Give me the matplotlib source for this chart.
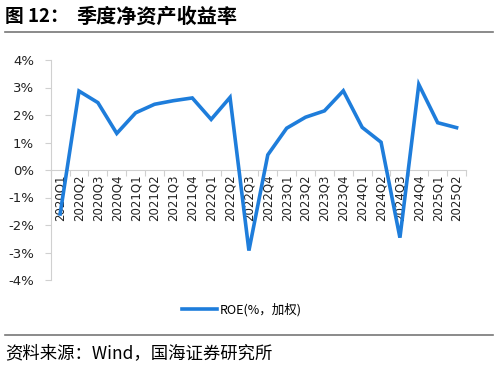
import matplotlib
matplotlib.use("Agg")
import matplotlib.pyplot as plt
from matplotlib.lines import Line2D
from matplotlib.ticker import FuncFormatter, MultipleLocator

plt.rcParams['font.family'] = ['Noto Sans CJK SC', 'DejaVu Sans']

quarters = ["2020Q1", "2020Q2", "2020Q3", "2020Q4", "2021Q1", "2021Q2", "2021Q3", "2021Q4",
            "2022Q1", "2022Q2", "2022Q3", "2022Q4", "2023Q1", "2023Q2", "2023Q3", "2023Q4",
            "2024Q1", "2024Q2", "2024Q3", "2024Q4", "2025Q1", "2025Q2"]
roe = [-1.6, 2.87, 2.45, 1.33, 2.08, 2.39, 2.52, 2.62,
       1.84, 2.64, -2.93, 0.55, 1.52, 1.92, 2.15, 2.88,
       1.55, 1.01, -2.46, 3.11, 1.72, 1.54]

title_a = "图 12："
title_b = "季度净资产收益率"
legend_label = "ROE(%，加权)"
source = "资料来源：Wind，国海证券研究所"

W, H = 498, 375
fig = plt.figure(figsize=(W / 100, H / 100), dpi=100)

ax = fig.add_axes([50.7 / W, 1 - 280 / H, (466 - 50.7) / W, 220 / H])
x = list(range(len(quarters)))
color = '#1E7DDB'
ax.plot(x, roe, color=color, lw=2.6, solid_joinstyle='miter', zorder=3)

ax.set_xlim(-0.5, len(quarters) - 0.5)
ax.set_ylim(-4, 4)
ax.yaxis.set_major_locator(MultipleLocator(1))
ax.yaxis.set_major_formatter(FuncFormatter(lambda v, p: f"{v:.0f}%"))

grey = '#d0d0d0'
for s in ['top', 'right']:
    ax.spines[s].set_visible(False)
ax.spines['left'].set_color(grey)
ax.spines['bottom'].set_color(grey)
ax.spines['bottom'].set_position(('data', 0))

ax.set_xticks([i - 0.5 for i in range(len(quarters) + 1)], minor=False)
ax.set_xticklabels([])
ax.set_xticks(x, minor=True)
ax.set_xticklabels(quarters, minor=True, rotation=90, fontsize=8.5,
                   family=['DejaVu Sans'], color='#222222')
ax.tick_params(axis='x', which='major', length=4, color=grey, direction='out')
ax.tick_params(axis='x', which='minor', length=0, pad=3)
ax.tick_params(axis='y', length=4, color=grey, labelsize=9.5, pad=8, labelcolor='#222222')
for lbl in ax.get_yticklabels():
    lbl.set_family(['DejaVu Sans'])

handle = Line2D([0], [0], color=color, lw=2.6)
fig.legend([handle], [legend_label], loc='center', bbox_to_anchor=(242 / W, 1 - 310 / H),
           frameon=False, fontsize=9, handlelength=2.8, handletextpad=0.2)

fig.text(5 / W, 1 - 16 / H, title_a, fontsize=13.5, fontweight='bold', va='center', ha='left')
fig.text(76 / W, 1 - 16 / H, title_b, fontsize=14.5, fontweight='bold', va='center', ha='left')
fig.add_artist(Line2D([5 / W, 493 / W], [1 - 32 / H, 1 - 32 / H], color='#777777', lw=1.2))
fig.add_artist(Line2D([5 / W, 493 / W], [1 - 335 / H, 1 - 335 / H], color='#777777', lw=1.2))
fig.text(5 / W, 1 - 353 / H, source, fontsize=12.5, va='center', ha='left')

fig.savefig("out.png", dpi=100)
